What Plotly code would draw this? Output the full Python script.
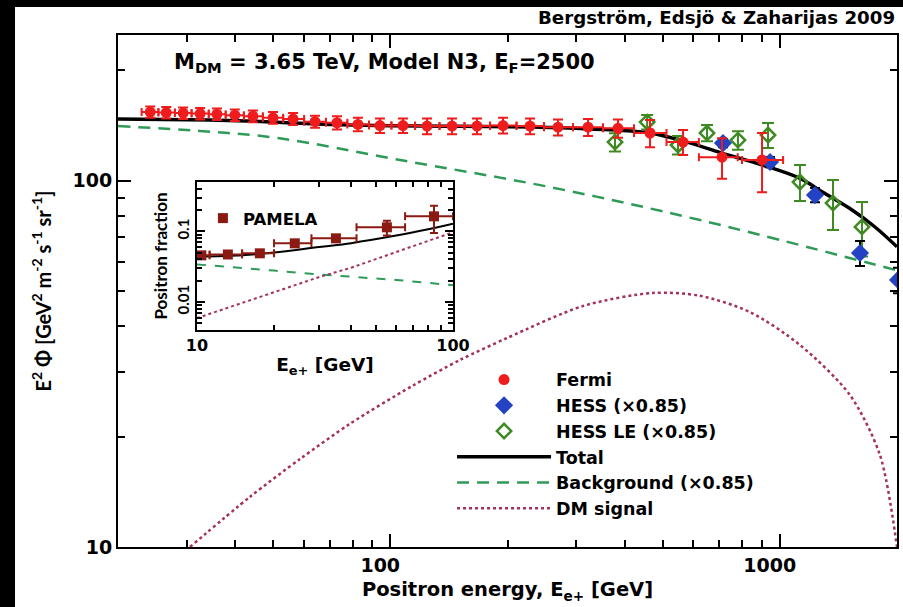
import math
import plotly.graph_objects as go

# ---------------- data ----------------
fermi_E = [24.2, 26.6, 29.4, 32.5, 35.9, 39.9, 44.4, 50.0, 56.3, 64.1, 73.0, 82.6, 94.1,
           107.8, 124.3, 144.1, 167.0, 194.8, 228.5, 269.6, 322.0, 384.3, 464.5, 564.5, 710.9, 900.6]
fermi_flux = [154, 153.5, 153, 152.5, 152, 151, 150, 148.5, 147.5, 145, 144, 142.5, 141.5,
              141.5, 141, 141, 141, 141.5, 141, 140, 140, 139, 135, 127.5, 116, 114]
fermi_err = [5.5, 5.5, 5.5, 5.5, 5.5, 5.5, 5.5, 5.5, 5.5, 5.5, 6, 6, 6.5,
             6.5, 7, 7, 7, 7, 7, 7, 7.5, 8, 11.5, 10, 14.7, 21]
fermi_E_lo = [23.0, 25.4, 28.0, 30.9, 34.2, 37.8, 42.1, 47.1, 53.1, 60.1, 68.4, 77.6, 88.2,
              100.7, 115.8, 133.8, 155.1, 180.4, 211.0, 248.2, 294.6, 351.8, 422.5, 512.0, 620.0, 800.0]
fermi_E_hi = [25.4, 28.0, 30.9, 34.2, 37.8, 42.1, 47.1, 53.1, 60.1, 68.4, 77.6, 88.2, 100.7,
              115.8, 133.8, 155.1, 180.4, 211.0, 248.2, 294.6, 351.8, 422.5, 512.0, 620.0, 780.0, 1020.0]

hess_E = [715, 944, 1232, 1607, 2012]
hess_flux = [126.7, 112.5, 91.4, 63.5, 53.6]
hess_err = [3.2, 3.6, 4.1, 5.0, 4.3]

hessle_E = [377.6, 456.6, 548, 650.5, 781, 933, 1127, 1370, 1626]
hessle_flux = [127.5, 144.6, 125.2, 135.0, 129.1, 133.3, 99.2, 86.9, 74.8]
hessle_err = [7.4, 6.5, 7.3, 6.9, 7.5, 10.4, 11.2, 13.5, 12.7]

total_E = [20, 30, 45, 70, 100, 150, 230, 300, 380, 464, 564, 711, 900, 1127, 1291, 1514, 1750, 2000]
total_flux = [147.5, 146.8, 145.3, 142.5, 141.2, 140.8, 140.2, 139, 137.5, 135, 128.5, 119, 110.5,
              101.5, 93, 84, 75, 66]

bg_E = [20, 32.5, 51.5, 106, 257, 624, 1977]
bg_flux = [141.0, 136.7, 130.8, 113.9, 96.1, 78.1, 57.1]

dm_E = [30.6, 43.6, 58.7, 78.8, 113.7, 151.0, 199.4, 312.6, 472.8, 624.2, 838.7, 1127.5, 1514.5, 1809, 2000]
dm_flux = [10, 13.7, 17.4, 21.7, 27.5, 32.4, 37.2, 45.5, 49.4, 48.5, 43.8, 35.6, 26.0, 17.8, 10]

# inset: positron fraction
pam_E = [10.4, 13.2, 17.6, 24.1, 34.9, 55.2, 84.3]
pam_frac = [0.0457, 0.047, 0.0488, 0.0676, 0.0796, 0.114, 0.163]
pam_err = [0.005, 0.005, 0.005, 0.006, 0.008, 0.027, 0.068]
pam_E_lo = [9.0, 11.2, 15.0, 20.0, 28.0, 42.0, 65.0]
pam_E_hi = [11.2, 15.0, 20.0, 28.0, 42.0, 65.0, 100.0]

in_E = [10, 15, 20, 30, 40, 60, 80, 100]
in_total = [0.044, 0.046, 0.050, 0.060, 0.068, 0.087, 0.107, 0.128]
in_bg = [0.034, 0.0305, 0.0278, 0.0245, 0.0228, 0.0205, 0.0186, 0.0172]
in_dm = [0.0059, 0.0096, 0.0137, 0.0225, 0.0305, 0.0505, 0.072, 0.097]

# tick labels
main_x_ticks = [100, 1000]
main_y_ticks = [10, 100]
inset_x_ticks = [10, 100]
inset_y_ticks = [0.01, 0.1]
inset_y_ticktext = ["0.01", "0.1"]

# ---------------- styling ----------------
WIDE = "DejaVu Sans"   # horizontal texts (reference is horizontally stretched)
NARROW = "Lato"        # rotated texts
RED = "#ee1c1c"
BLUE = "#2342c4"
LEGREEN = "#3f8a22"
BGGREEN = "#2f9a58"
DMCOL = "#a3305e"
PAMCOL = "#8a1a12"


def minus(vals, lo):
    return [v - l for v, l in zip(vals, lo)]


def plus(vals, hi):
    return [h - v for v, h in zip(vals, hi)]


def f(size, family=WIDE):
    return dict(size=size, family=family, weight="bold", color="black")


fig = go.Figure()

# main curves
fig.add_trace(go.Scatter(x=dm_E, y=dm_flux, mode="lines", name="DM signal", legendrank=6,
                         line=dict(color=DMCOL, width=2.5, dash="dot", shape="spline", smoothing=0.8)))
fig.add_trace(go.Scatter(x=bg_E, y=bg_flux, mode="lines", name="Background (×0.85)", legendrank=5,
                         line=dict(color=BGGREEN, width=2.5, dash="12px,8px", shape="spline")))
fig.add_trace(go.Scatter(x=total_E, y=total_flux, mode="lines", name="Total", legendrank=4,
                         line=dict(color="black", width=3.5, shape="spline")))

fig.add_trace(go.Scatter(
    x=hessle_E, y=hessle_flux, mode="markers", name="HESS LE (×0.85)", legendrank=3,
    marker=dict(symbol="diamond-open", size=11, color=LEGREEN, line=dict(width=2.5, color=LEGREEN)),
    error_y=dict(type="data", array=hessle_err, color=LEGREEN, thickness=2, width=6)))
fig.add_trace(go.Scatter(
    x=hess_E, y=hess_flux, mode="markers", name="HESS (×0.85)", legendrank=2,
    marker=dict(symbol="diamond", size=14, color=BLUE),
    error_y=dict(type="data", array=hess_err, color="black", thickness=2, width=5)))
fig.add_trace(go.Scatter(
    x=fermi_E, y=fermi_flux, mode="markers", name="Fermi", legendrank=1,
    marker=dict(symbol="circle", size=11, color=RED),
    error_y=dict(type="data", array=fermi_err, color=RED, thickness=2, width=5),
    error_x=dict(type="data", array=plus(fermi_E, fermi_E_hi), arrayminus=minus(fermi_E, fermi_E_lo),
                 color=RED, thickness=2, width=4)))

# inset
fig.add_trace(go.Scatter(x=in_E, y=in_bg, mode="lines", xaxis="x2", yaxis="y2", showlegend=False,
                         line=dict(color=BGGREEN, width=2, dash="dash")))
fig.add_trace(go.Scatter(x=in_E, y=in_dm, mode="lines", xaxis="x2", yaxis="y2", showlegend=False,
                         line=dict(color=DMCOL, width=2, dash="dot")))
fig.add_trace(go.Scatter(x=in_E, y=in_total, mode="lines", xaxis="x2", yaxis="y2", showlegend=False,
                         line=dict(color="black", width=2, shape="spline")))
fig.add_trace(go.Scatter(
    x=pam_E, y=pam_frac, mode="markers", xaxis="x2", yaxis="y2", name="PAMELA", legend="legend2",
    marker=dict(symbol="square", size=10, color=PAMCOL),
    error_y=dict(type="data", array=pam_err, color=PAMCOL, thickness=2, width=4),
    error_x=dict(type="data", array=plus(pam_E, pam_E_hi), arrayminus=minus(pam_E, pam_E_lo),
                 color=PAMCOL, thickness=2, width=4)))

axis_common = dict(showline=True, linecolor="black", linewidth=2, mirror="ticks", showgrid=False,
                   zeroline=False, ticks="inside", tickcolor="black")

main_x_minor = [30, 40, 50, 60, 70, 80, 90, 200, 300, 400, 500, 600, 700, 800, 900]
main_y_minor = [20, 30, 40, 50, 60, 70, 80, 90, 200]
inset_x_minor = [20, 30, 40, 50, 60, 70, 80, 90]
inset_y_minor = [0.005, 0.006, 0.007, 0.008, 0.009, 0.02, 0.03, 0.04, 0.05, 0.06, 0.07, 0.08, 0.09,
                 0.2, 0.3, 0.4]

fig.update_layout(
    width=903, height=607,
    margin=dict(l=118, r=6, t=35, b=60, autoexpand=False),
    paper_bgcolor="white", plot_bgcolor="white",
    font=f(16),
    xaxis=dict(type="log", range=[math.log10(20), math.log10(2000)], domain=[0, 1],
               tickvals=main_x_ticks, ticktext=[str(v) for v in main_x_ticks],
               ticklen=13, tickwidth=2, tickfont=f(19), ticklabelshift=-10,
               minor=dict(tickvals=main_x_minor, ticks="inside", ticklen=7, tickwidth=1.5, tickcolor="black"),
               title=dict(text="Positron energy, E<sub>e+</sub> [GeV]", font=f(19.5), standoff=8),
               **axis_common),
    yaxis=dict(type="log", range=[1, math.log10(250)], domain=[0, 1],
               tickvals=main_y_ticks, ticktext=[str(v) for v in main_y_ticks],
               ticklen=13, tickwidth=2, tickfont=f(19),
               minor=dict(tickvals=main_y_minor, ticks="inside", ticklen=7, tickwidth=1.5, tickcolor="black"),
               title=dict(text="E<sup>2</sup> Φ [GeV<sup>2</sup> m<sup>-2</sup> s<sup>-1</sup> sr<sup>-1</sup>]",
                          font=f(20, NARROW), standoff=16),
               **axis_common),
    xaxis2=dict(type="log", range=[1, 2], domain=[0.1014, 0.430], anchor="y2",
                tickvals=inset_x_ticks, ticktext=[str(v) for v in inset_x_ticks],
                ticklen=8, tickwidth=2, tickfont=f(16),
                minor=dict(tickvals=inset_x_minor, ticks="inside", ticklen=5, tickwidth=1.5, tickcolor="black"),
                title=dict(text="E<sub>e+</sub> [GeV]", font=f(18.5), standoff=4),
                **axis_common),
    yaxis2=dict(type="log", range=[math.log10(0.004), math.log10(0.5)], domain=[0.4238, 0.7129], anchor="x2",
                tickvals=inset_y_ticks, ticktext=inset_y_ticktext, tickangle=-90,
                ticklen=8, tickwidth=2, tickfont=f(15, NARROW),
                minor=dict(tickvals=inset_y_minor, ticks="inside", ticklen=5, tickwidth=1.5, tickcolor="black"),
                title=dict(text="Positron fraction", font=f(17, NARROW), standoff=2),
                **axis_common),
    legend=dict(x=0.4288, y=0.362, xanchor="left", yanchor="top", bgcolor="rgba(0,0,0,0)",
                font=f(17.5), itemwidth=94, tracegroupgap=0, traceorder="normal"),
    legend2=dict(x=0.109, y=0.676, xanchor="left", yanchor="top", bgcolor="rgba(0,0,0,0)",
                 font=f(16.5)),
    showlegend=True,
)

fig.add_annotation(text="Bergström, Edsjö &amp; Zaharijas 2009", xref="paper", yref="paper",
                   x=1.0, y=1.035, xanchor="right", yanchor="middle", showarrow=False, font=f(18.2))
fig.add_annotation(text="M<sub>DM</sub> = 3.65 TeV, Model N3, E<sub>F</sub>=2500", xref="paper", yref="paper",
                   x=0.0693, y=0.945, xanchor="left", yanchor="middle", showarrow=False, font=f(21))

# black frame strips at the left and top edge of the picture
fig.add_shape(type="rect", xref="paper", yref="paper", x0=-0.16, x1=-0.1322, y0=-0.2, y1=1.1,
              fillcolor="black", line=dict(width=0), layer="above")
fig.add_shape(type="rect", xref="paper", yref="paper", x0=-0.16, x1=1.02, y0=1.0547, y1=1.1,
              fillcolor="black", line=dict(width=0), layer="above")

fig.write_html("out.html")
